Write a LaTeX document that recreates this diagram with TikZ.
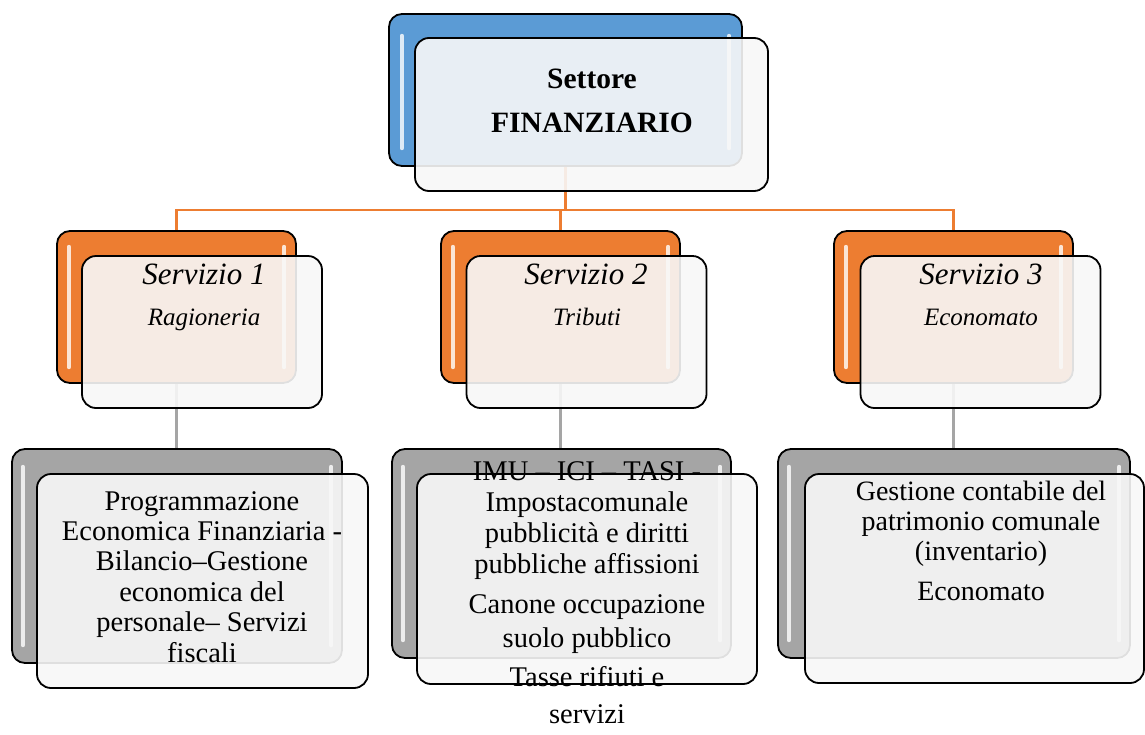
\documentclass[tikz,border=0pt]{standalone}
\usepackage{fontspec}
\setmainfont{Liberation Serif}
\definecolor{accBlue}{HTML}{5B9BD5}
\definecolor{accOrange}{HTML}{ED7D31}
\definecolor{accGray}{HTML}{A5A5A5}
\definecolor{paneFill}{HTML}{F8F8F8}
\begin{document}
\begin{tikzpicture}[x=1pt,y=-1pt,
  backbox/.style={draw=black, line width=1.8pt, rounded corners=13pt, inner sep=0pt},
  frontbox/.style={draw=black, line width=1.8pt, rounded corners=14pt, inner sep=0pt,
                   fill=paneFill, fill opacity=0.9},
  gloss/.style={draw=white, line width=4pt, line cap=round, opacity=0.8},
  linkTop/.style={draw=accOrange, line width=2.2pt},
  linkMid/.style={draw=accGray, line width=3.5pt},
  title/.style={inner sep=0pt, align=center},
]
% page
\fill[white] (0,0) rectangle (1145,734);
\useasboundingbox (0,0) rectangle (1145,734);
\clip (0,0) rectangle (1145,734);

% back boxes (positions only, drawn later)
\path
  (565.5,90)  node[minimum width=353pt, minimum height=152pt] (topB) {}
  (176.5,307) node[minimum width=239pt, minimum height=152pt] (s1B) {}
  (560.5,307) node[minimum width=239pt, minimum height=152pt] (s2B) {}
  (953.5,307) node[minimum width=239pt, minimum height=152pt] (s3B) {}
  (177,556)   node[minimum width=330pt, minimum height=214pt] (b1B) {}
  (561.5,553.5) node[minimum width=339pt, minimum height=209pt] (b2B) {}
  (954,553.5) node[minimum width=352pt, minimum height=209pt] (b3B) {};

% connectors
\coordinate (hub) at (565.5,210);
\draw[linkTop] (topB.south) -- (hub);
\draw[linkTop] (hub) -| (s1B.north);
\draw[linkTop] (hub) -| (s2B.north);
\draw[linkTop] (hub) -| (s3B.north);
\draw[linkMid] (s1B.south) -- (s1B.south |- b1B.north);
\draw[linkMid] (s2B.south) -- (s2B.south |- b2B.north);
\draw[linkMid] (s3B.south) -- (s3B.south |- b3B.north);

% top group
\node[backbox, fill=accBlue, minimum width=353pt, minimum height=152pt] at (topB) {};
\draw[gloss] ([xshift=13pt,yshift=-22pt]topB.north west) -- ([xshift=13pt,yshift=18pt]topB.south west);
\draw[gloss] ([xshift=-13pt,yshift=-22pt]topB.north east) -- ([xshift=-13pt,yshift=18pt]topB.south east);
\node[frontbox, minimum width=353pt, minimum height=153pt] (topF) at (591.5,114.5) {};

% service groups
\foreach \b/\fx in {s1/202, s2/586.5, s3/980.5}{
  \node[backbox, fill=accOrange, minimum width=239pt, minimum height=152pt] at (\b B) {};
  \draw[gloss] ([xshift=12pt,yshift=-16pt]\b B.north west) -- ([xshift=12pt,yshift=16pt]\b B.south west);
  \draw[gloss] ([xshift=-12pt,yshift=-16pt]\b B.north east) -- ([xshift=-12pt,yshift=16pt]\b B.south east);
  \node[frontbox, minimum width=240pt, minimum height=152pt] (\b F) at (\fx,332) {};
}

% detail groups
\node[backbox, fill=accGray, minimum width=330pt, minimum height=214pt] at (b1B) {};
\node[backbox, fill=accGray, minimum width=339pt, minimum height=209pt] at (b2B) {};
\node[backbox, fill=accGray, minimum width=352pt, minimum height=209pt] at (b3B) {};
\foreach \b in {b1,b2,b3}{
  \draw[gloss] ([xshift=11pt,yshift=-18pt]\b B.north west) -- ([xshift=11pt,yshift=18pt]\b B.south west);
  \draw[gloss] ([xshift=-11pt,yshift=-18pt]\b B.north east) -- ([xshift=-11pt,yshift=18pt]\b B.south east);
}
\node[frontbox, minimum width=331pt, minimum height=214pt] (b1F) at (202.5,581) {};
\node[frontbox, minimum width=340pt, minimum height=210pt] (b2F) at (587,579) {};
\node[frontbox, minimum width=339pt, minimum height=209pt] (b3F) at (974.5,578.5) {};

% texts
\node[title, anchor=north, font={\bfseries\fontsize{29.5}{44}\selectfont}] (tTop) at (592,57.2)
  {\strut Settore\\FINANZIARIO};

\node[title, anchor=base, font={\itshape\fontsize{31}{36}\selectfont}] (tS1) at (204,284) {Servizio 1};
\node[title, anchor=base, font={\itshape\fontsize{25}{30}\selectfont}] (tS1b) at (204,325) {Ragioneria};
\node[title, anchor=base, font={\itshape\fontsize{31}{36}\selectfont}] (tS2) at (586,284) {Servizio 2};
\node[title, anchor=base, font={\itshape\fontsize{25}{30}\selectfont}] (tS2b) at (587,325) {Tributi};
\node[title, anchor=base, font={\itshape\fontsize{31}{36}\selectfont}] (tS3) at (981,284) {Servizio 3};
\node[title, anchor=base, font={\itshape\fontsize{25}{30}\selectfont}] (tS3b) at (981,325) {Economato};

\node[title, anchor=north, font={\fontsize{28.5}{30.4}\selectfont}] (tB1) at (202,488.7)
  {\strut Programmazione\\Economica Finanziaria -\\Bilancio–Gestione\\economica del\\personale– Servizi\\fiscali};
\node[title, anchor=north, font={\fontsize{28.5}{31}\selectfont}] (tB2) at (587,458.3)
  {\strut IMU – ICI – TASI -\\Impostacomunale\\pubblicità e diritti\\pubbliche affissioni\\[9pt]
   Canone occupazione\\[3pt]suolo pubblico\\[8pt]Tasse rifiuti e\\[6pt]servizi};
\node[title, anchor=north, font={\fontsize{28}{30}\selectfont}] (tB3) at (981,479)
  {\strut Gestione contabile del\\patrimonio comunale\\(inventario)\\[10pt]Economato};
\end{tikzpicture}
\end{document}
